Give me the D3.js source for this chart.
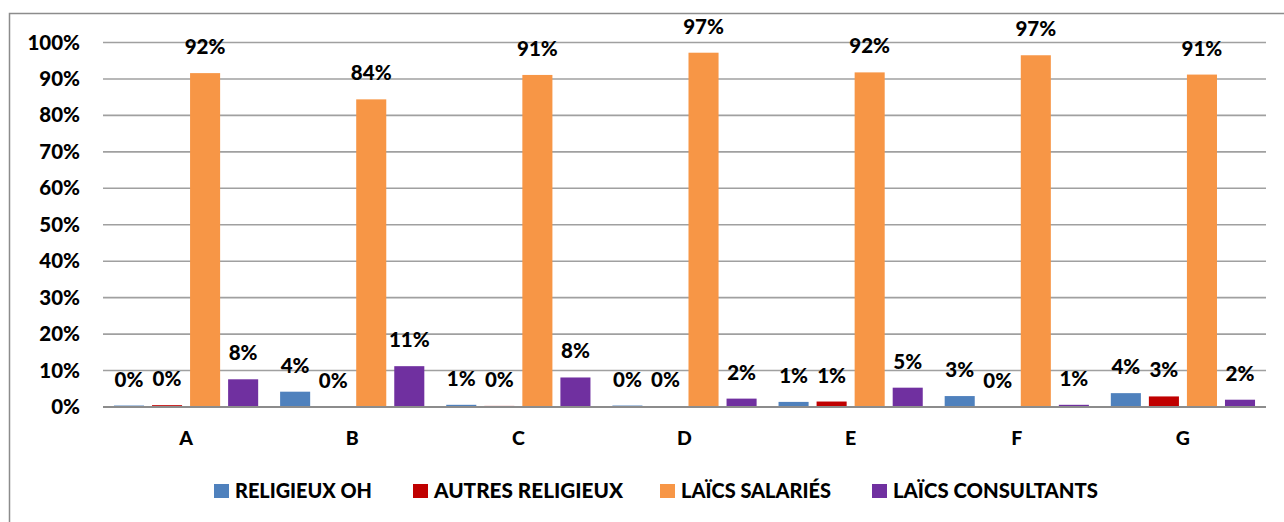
<!DOCTYPE html>
<html>
<head>
<meta charset="utf-8">
<script src="https://cdn.jsdelivr.net/npm/d3@7"></script>
<style>
  body { margin: 0; background: #fff; }
  text { font-family: Lato, "Liberation Sans", sans-serif; font-weight: 900; fill: #000; }
</style>
</head>
<body>
<svg width="1284" height="522"></svg>
<script>
// categories and series
var categories = ["A", "B", "C", "D", "E", "F", "G"];
var seriesNames = ["RELIGIEUX OH", "AUTRES RELIGIEUX", "LAÏCS SALARIÉS", "LAÏCS CONSULTANTS"];
var seriesColors = ["#4f81bd", "#c00000", "#f79646", "#7030a0"];

// values in percent
var religieuxOH     = [0.4, 4.2, 0.6, 0.4, 1.4, 3.0, 3.8];
var autresReligieux = [0.5, 0.1, 0.3, 0.2, 1.5, 0.0, 2.9];
var laicsSalaries   = [91.6, 84.4, 91.1, 97.2, 91.8, 96.5, 91.2];
var laicsConsult    = [7.6, 11.2, 8.1, 2.3, 5.3, 0.6, 2.0];
var valueLabels = [
  ["0%", "4%", "1%", "0%", "1%", "3%", "4%"],
  ["0%", "0%", "0%", "0%", "1%", "0%", "3%"],
  ["92%", "84%", "91%", "97%", "92%", "97%", "91%"],
  ["8%", "11%", "8%", "2%", "5%", "1%", "2%"]
];
var yTicks = [0, 10, 20, 30, 40, 50, 60, 70, 80, 90, 100];

var allSeries = [religieuxOH, autresReligieux, laicsSalaries, laicsConsult];

var svg = d3.select("svg");
var margin = {top: 42.5, left: 103, right: 18, bottom: 115};
var width = 1284 - margin.left - margin.right,
    height = 522 - margin.top - margin.bottom;

// outer frame
svg.append("rect")
   .attr("x", 9.5).attr("y", 13.5)
   .attr("width", 1290).attr("height", 520)
   .attr("fill", "none").attr("stroke", "#8c8c8c").attr("stroke-width", 1.5);

var chart = svg.append("g").attr("transform", "translate(" + margin.left + "," + margin.top + ")");

var x0 = d3.scaleBand().domain(categories).range([0, width]);
var bw = x0.bandwidth();
var x1 = d3.scaleBand().domain(d3.range(4))
           .range([bw * 0.066, bw * 0.934])
           .paddingInner(0.21);
var y = d3.scaleLinear().domain([0, 100]).range([height, 0]);

// gridlines
chart.selectAll(".grid")
     .data(yTicks.filter(function(d) { return d > 0; }))
     .enter().append("line")
     .attr("x1", 0).attr("x2", width)
     .attr("y1", function(d) { return y(d); })
     .attr("y2", function(d) { return y(d); })
     .attr("stroke", "#a0a0a0").attr("stroke-width", 1.6);

// y axis labels
var yAxis = chart.append("g")
     .call(d3.axisLeft(y).tickValues(yTicks).tickSize(0).tickPadding(23)
             .tickFormat(function(d) { return d + "%"; }));
yAxis.select(".domain").remove();
yAxis.selectAll("text").style("font-size", "20.5px").style("font-family", "Lato, 'Liberation Sans', sans-serif");

// bars
var groups = chart.selectAll(".catG")
     .data(categories)
     .enter().append("g")
     .attr("class", "catG")
     .attr("transform", function(d) { return "translate(" + x0(d) + ",0)"; });

groups.each(function(cat, ci) {
  var g = d3.select(this);
  allSeries.forEach(function(vals, si) {
    var v = vals[ci];
    g.append("rect")
     .attr("x", x1(si))
     .attr("width", x1.bandwidth())
     .attr("y", y(v))
     .attr("height", height - y(v))
     .attr("fill", seriesColors[si]);
    g.append("text")
     .attr("x", x1(si) + x1.bandwidth() / 2)
     .attr("y", y(v) - 19)
     .attr("text-anchor", "middle")
     .style("font-size", "20.5px")
     .text(valueLabels[si][ci]);
  });
});

// zero axis line
chart.append("line")
     .attr("x1", 0).attr("x2", width)
     .attr("y1", height).attr("y2", height)
     .attr("stroke", "#8c8c8c").attr("stroke-width", 2);

// x axis labels
var xAxis = chart.append("g")
     .attr("transform", "translate(0," + height + ")")
     .call(d3.axisBottom(x0).tickSize(0).tickPadding(24));
xAxis.select(".domain").remove();
xAxis.selectAll("text").style("font-size", "19.5px").style("font-family", "Lato, 'Liberation Sans', sans-serif");

// legend
var legendX = [214, 413, 660, 872];
var legendW = [137, 189, 150, 205];
var legend = svg.selectAll(".leg")
     .data(seriesNames)
     .enter().append("g")
     .attr("class", "leg")
     .attr("transform", function(d, i) { return "translate(" + legendX[i] + ",491)"; });
legend.append("rect")
      .attr("x", 0).attr("y", -7).attr("width", 15).attr("height", 14)
      .attr("fill", function(d, i) { return seriesColors[i]; });
legend.append("text")
      .attr("x", 21).attr("y", 0)
      .attr("dy", "0.36em")
      .attr("textLength", function(d, i) { return legendW[i]; })
      .attr("lengthAdjust", "spacingAndGlyphs")
      .style("font-size", "20px")
      .text(function(d) { return d; });
</script>
</body>
</html>
